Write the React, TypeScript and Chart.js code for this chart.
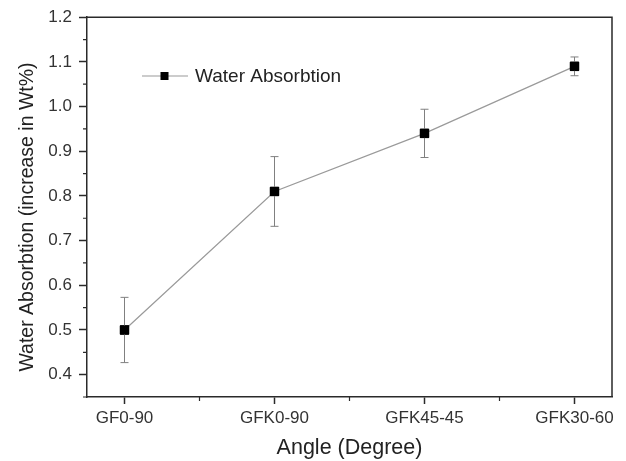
import React, { useEffect, useRef } from "react";
import { Chart, registerables } from "chart.js";

Chart.register(...registerables);

const categories = ["GF0-90", "GFK0-90", "GFK45-45", "GFK30-60"];
const absorption = [0.5, 0.81, 0.94, 1.09];
const errors = [0.073, 0.078, 0.054, 0.021];
const yTicks = [0.4, 0.5, 0.6, 0.7, 0.8, 0.9, 1.0, 1.1, 1.2];
const seriesLabel = "Water Absorbtion";
const xTitle = "Angle (Degree)";
const yTitle = "Water Absorbtion (increase in Wt%)";

const FONT = "'Liberation Sans', Arial, sans-serif";
const AXIS = "#2a2a2a";
const LINE = "#9a9a9a";
const ERR = "#808080";

const decorPlugin = {
  id: "decor",
  afterDatasetsDraw(chart: any) {
    const { ctx, chartArea, scales } = chart;
    const xs = scales.x;
    const ys = scales.y;
    ctx.save();
    // error bars
    ctx.strokeStyle = ERR;
    ctx.lineWidth = 1;
    absorption.forEach((v, i) => {
      const px = xs.getPixelForValue(i);
      const top = ys.getPixelForValue(v + errors[i]);
      const bot = ys.getPixelForValue(v - errors[i]);
      ctx.beginPath();
      ctx.moveTo(px, top);
      ctx.lineTo(px, bot);
      ctx.moveTo(px - 4, top);
      ctx.lineTo(px + 4, top);
      ctx.moveTo(px - 4, bot);
      ctx.lineTo(px + 4, bot);
      ctx.stroke();
    });
    // redraw markers on top of error bars
    ctx.fillStyle = "#000";
    absorption.forEach((v, i) => {
      const px = xs.getPixelForValue(i);
      const py = ys.getPixelForValue(v);
      ctx.fillRect(px - 4.5, py - 4.5, 9, 9);
    });
    // frame top & right
    ctx.strokeStyle = AXIS;
    ctx.lineWidth = 1.5;
    ctx.beginPath();
    ctx.moveTo(chartArea.left, chartArea.top);
    ctx.lineTo(chartArea.right, chartArea.top);
    ctx.lineTo(chartArea.right, chartArea.bottom);
    ctx.stroke();
    // minor ticks
    ctx.lineWidth = 1.2;
    ctx.beginPath();
    for (let i = 0; i < categories.length - 1; i++) {
      const px = xs.getPixelForValue(i + 0.5);
      ctx.moveTo(px, chartArea.bottom);
      ctx.lineTo(px, chartArea.bottom + 4);
    }
    const minorY = [yTicks[0] - 0.05, ...yTicks.slice(0, -1).map((t) => t + 0.05)];
    minorY.forEach((t) => {
      const py = ys.getPixelForValue(t);
      ctx.moveTo(chartArea.left, py);
      ctx.lineTo(chartArea.left - 4, py);
    });
    ctx.stroke();
    // legend
    const ly = 76;
    ctx.strokeStyle = LINE;
    ctx.lineWidth = 1.2;
    ctx.beginPath();
    ctx.moveTo(142, ly);
    ctx.lineTo(188, ly);
    ctx.stroke();
    ctx.fillStyle = "#000";
    ctx.fillRect(160.5, ly - 4, 8, 8);
    ctx.fillStyle = "#222";
    ctx.font = `19px ${FONT}`;
    ctx.textAlign = "left";
    ctx.textBaseline = "middle";
    ctx.fillText(seriesLabel, 195, ly + 1);
    // y title
    ctx.save();
    ctx.translate(28, 217);
    ctx.rotate(-Math.PI / 2);
    ctx.textAlign = "center";
    ctx.textBaseline = "middle";
    ctx.font = `19.5px ${FONT}`;
    ctx.fillText(yTitle, 0, 0);
    ctx.restore();
    ctx.restore();
  },
};

export default function App() {
  const ref = useRef<HTMLCanvasElement>(null);
  useEffect(() => {
    if (!ref.current) return;
    const chart = new Chart(ref.current, {
      type: "line",
      data: {
        datasets: [
          {
            label: seriesLabel,
            data: absorption.map((v, i) => ({ x: i, y: v })),
            borderColor: LINE,
            borderWidth: 1.2,
            pointStyle: "rect",
            pointRadius: 6,
            pointBackgroundColor: "#000",
            pointBorderColor: "#000",
            pointBorderWidth: 1,
            tension: 0,
          },
        ],
      },
      plugins: [decorPlugin],
      options: {
        responsive: false,
        animation: false,
        events: [],
        layout: { padding: { top: 14, right: 14, left: 0, bottom: 0 } },
        plugins: { legend: { display: false }, tooltip: { enabled: false } },
        scales: {
          x: {
            type: "linear",
            min: -0.25,
            max: 3.25,
            afterBuildTicks: (s: any) => {
              s.ticks = categories.map((_, i) => ({ value: i }));
            },
            afterFit: (s: any) => {
              s.height = 64;
            },
            ticks: {
              callback: (v: any) => categories[v as number] ?? "",
              font: { family: FONT, size: 17 },
              color: "#333",
              padding: 4,
              maxRotation: 0,
              autoSkip: false,
            },
            grid: {
              display: true,
              drawOnChartArea: false,
              drawTicks: true,
              tickLength: 7,
              tickColor: AXIS,
              tickWidth: 1.5,
            },
            border: { display: true, color: AXIS, width: 1.5 },
            title: {
              display: true,
              text: xTitle,
              font: { family: FONT, size: 21.5 },
              color: "#222",
              padding: { top: 3, bottom: 0 },
            },
          },
          y: {
            type: "linear",
            min: 0.35,
            max: 1.2,
            afterBuildTicks: (s: any) => {
              s.ticks = yTicks.map((v) => ({ value: v }));
            },
            afterFit: (s: any) => {
              s.width = 87;
            },
            ticks: {
              callback: (v: any) => Number(v).toFixed(1),
              font: { family: FONT, size: 17 },
              color: "#333",
              padding: 7,
              autoSkip: false,
            },
            grid: {
              display: true,
              drawOnChartArea: false,
              drawTicks: true,
              tickLength: 8,
              tickColor: AXIS,
              tickWidth: 1.5,
            },
            border: { display: true, color: AXIS, width: 1.5 },
          },
        },
      },
    } as any);
    return () => chart.destroy();
  }, []);
  return (
    <div style={{ position: "fixed", left: 0, top: 0, width: 626, height: 461, background: "#fff" }}>
      <canvas ref={ref} width={626} height={461} />
    </div>
  );
}
